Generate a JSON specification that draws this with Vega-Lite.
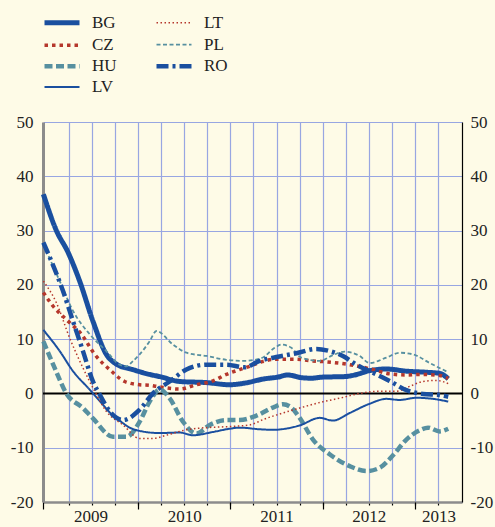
{
  "$schema": "https://vega.github.io/schema/vega-lite/v6.json",
  "width": 419,
  "height": 380,
  "autosize": {"type": "none"},
  "padding": {"left": 43, "top": 122, "right": 33, "bottom": 25},
  "background": "#fefbe7",
  "config": {
    "view": {"stroke": null},
    "font": "Liberation Serif, Times New Roman, serif",
    "legend": {"padding": 0}
  },
  "datasets": {
    "d": [
      {"s": "BG", "t": 2008.975, "v": 36.7}, {"s": "BG", "t": 2009.116, "v": 30.0}, {"s": "BG", "t": 2009.242, "v": 26.0}, {"s": "BG", "t": 2009.368, "v": 20.7}, {"s": "BG", "t": 2009.512, "v": 13.3}, {"s": "BG", "t": 2009.657, "v": 7.2}, {"s": "BG", "t": 2009.766, "v": 5.4}, {"s": "BG", "t": 2009.942, "v": 4.4}, {"s": "BG", "t": 2010.126, "v": 3.5}, {"s": "BG", "t": 2010.235, "v": 3.1}, {"s": "BG", "t": 2010.451, "v": 2.2}, {"s": "BG", "t": 2010.74, "v": 2.0}, {"s": "BG", "t": 2010.993, "v": 1.6}, {"s": "BG", "t": 2011.155, "v": 1.9}, {"s": "BG", "t": 2011.372, "v": 2.7}, {"s": "BG", "t": 2011.513, "v": 3.0}, {"s": "BG", "t": 2011.621, "v": 3.4}, {"s": "BG", "t": 2011.773, "v": 2.9}, {"s": "BG", "t": 2011.881, "v": 2.8}, {"s": "BG", "t": 2011.989, "v": 3.0}, {"s": "BG", "t": 2012.238, "v": 3.1}, {"s": "BG", "t": 2012.347, "v": 3.4}, {"s": "BG", "t": 2012.509, "v": 4.2}, {"s": "BG", "t": 2012.69, "v": 4.5}, {"s": "BG", "t": 2012.907, "v": 4.1}, {"s": "BG", "t": 2013.123, "v": 3.9}, {"s": "BG", "t": 2013.267, "v": 3.7}, {"s": "BG", "t": 2013.36, "v": 2.7},
      {"s": "CZ", "t": 2008.975, "v": 18.6}, {"s": "CZ", "t": 2009.079, "v": 16.1}, {"s": "CZ", "t": 2009.224, "v": 13.6}, {"s": "CZ", "t": 2009.387, "v": 10.9}, {"s": "CZ", "t": 2009.531, "v": 7.2}, {"s": "CZ", "t": 2009.712, "v": 4.1}, {"s": "CZ", "t": 2009.856, "v": 2.2}, {"s": "CZ", "t": 2010.018, "v": 1.6}, {"s": "CZ", "t": 2010.126, "v": 1.5}, {"s": "CZ", "t": 2010.235, "v": 1.2}, {"s": "CZ", "t": 2010.451, "v": 0.8}, {"s": "CZ", "t": 2010.632, "v": 1.6}, {"s": "CZ", "t": 2010.795, "v": 2.2}, {"s": "CZ", "t": 2010.957, "v": 3.5}, {"s": "CZ", "t": 2011.101, "v": 4.4}, {"s": "CZ", "t": 2011.209, "v": 5.0}, {"s": "CZ", "t": 2011.336, "v": 5.8}, {"s": "CZ", "t": 2011.48, "v": 6.3}, {"s": "CZ", "t": 2011.697, "v": 6.3}, {"s": "CZ", "t": 2011.878, "v": 6.0}, {"s": "CZ", "t": 2012.054, "v": 5.8}, {"s": "CZ", "t": 2012.293, "v": 5.3}, {"s": "CZ", "t": 2012.545, "v": 4.4}, {"s": "CZ", "t": 2012.726, "v": 3.6}, {"s": "CZ", "t": 2012.907, "v": 3.4}, {"s": "CZ", "t": 2013.083, "v": 3.5}, {"s": "CZ", "t": 2013.267, "v": 3.3}, {"s": "CZ", "t": 2013.36, "v": 2.8},
      {"s": "HU", "t": 2008.975, "v": 9.6}, {"s": "HU", "t": 2009.097, "v": 4.7}, {"s": "HU", "t": 2009.224, "v": 0.0}, {"s": "HU", "t": 2009.404, "v": -2.7}, {"s": "HU", "t": 2009.512, "v": -4.6}, {"s": "HU", "t": 2009.729, "v": -8.0}, {"s": "HU", "t": 2009.874, "v": -8.0}, {"s": "HU", "t": 2010.018, "v": -5.2}, {"s": "HU", "t": 2010.126, "v": -1.5}, {"s": "HU", "t": 2010.235, "v": 0.7}, {"s": "HU", "t": 2010.343, "v": -0.9}, {"s": "HU", "t": 2010.487, "v": -5.2}, {"s": "HU", "t": 2010.632, "v": -7.4}, {"s": "HU", "t": 2010.776, "v": -5.8}, {"s": "HU", "t": 2010.957, "v": -4.9}, {"s": "HU", "t": 2011.101, "v": -4.9}, {"s": "HU", "t": 2011.282, "v": -4.1}, {"s": "HU", "t": 2011.461, "v": -2.6}, {"s": "HU", "t": 2011.57, "v": -2.0}, {"s": "HU", "t": 2011.661, "v": -2.6}, {"s": "HU", "t": 2011.751, "v": -4.5}, {"s": "HU", "t": 2011.895, "v": -8.5}, {"s": "HU", "t": 2012.075, "v": -11.2}, {"s": "HU", "t": 2012.293, "v": -13.4}, {"s": "HU", "t": 2012.473, "v": -14.3}, {"s": "HU", "t": 2012.617, "v": -13.7}, {"s": "HU", "t": 2012.762, "v": -11.4}, {"s": "HU", "t": 2012.907, "v": -8.5}, {"s": "HU", "t": 2013.05, "v": -6.8}, {"s": "HU", "t": 2013.141, "v": -6.3}, {"s": "HU", "t": 2013.267, "v": -7.0}, {"s": "HU", "t": 2013.36, "v": -6.5},
      {"s": "LV", "t": 2008.975, "v": 11.7}, {"s": "LV", "t": 2009.152, "v": 7.8}, {"s": "LV", "t": 2009.296, "v": 4.1}, {"s": "LV", "t": 2009.477, "v": 0.7}, {"s": "LV", "t": 2009.621, "v": -2.1}, {"s": "LV", "t": 2009.693, "v": -3.5}, {"s": "LV", "t": 2009.801, "v": -5.0}, {"s": "LV", "t": 2009.91, "v": -6.3}, {"s": "LV", "t": 2010.018, "v": -6.9}, {"s": "LV", "t": 2010.235, "v": -7.3}, {"s": "LV", "t": 2010.451, "v": -7.2}, {"s": "LV", "t": 2010.595, "v": -7.7}, {"s": "LV", "t": 2010.812, "v": -7.1}, {"s": "LV", "t": 2010.993, "v": -6.5}, {"s": "LV", "t": 2011.101, "v": -6.3}, {"s": "LV", "t": 2011.317, "v": -6.6}, {"s": "LV", "t": 2011.461, "v": -6.7}, {"s": "LV", "t": 2011.751, "v": -5.9}, {"s": "LV", "t": 2011.967, "v": -4.5}, {"s": "LV", "t": 2012.111, "v": -5.0}, {"s": "LV", "t": 2012.293, "v": -3.6}, {"s": "LV", "t": 2012.509, "v": -1.9}, {"s": "LV", "t": 2012.69, "v": -1.0}, {"s": "LV", "t": 2012.834, "v": -1.2}, {"s": "LV", "t": 2013.015, "v": -0.8}, {"s": "LV", "t": 2013.195, "v": -1.0}, {"s": "LV", "t": 2013.36, "v": -1.5},
      {"s": "LT", "t": 2008.975, "v": 20.7}, {"s": "LT", "t": 2009.116, "v": 16.7}, {"s": "LT", "t": 2009.26, "v": 10.2}, {"s": "LT", "t": 2009.404, "v": 4.7}, {"s": "LT", "t": 2009.531, "v": 0.4}, {"s": "LT", "t": 2009.657, "v": -3.3}, {"s": "LT", "t": 2009.837, "v": -5.8}, {"s": "LT", "t": 2010.018, "v": -8.3}, {"s": "LT", "t": 2010.162, "v": -8.3}, {"s": "LT", "t": 2010.307, "v": -7.7}, {"s": "LT", "t": 2010.524, "v": -6.7}, {"s": "LT", "t": 2010.74, "v": -6.3}, {"s": "LT", "t": 2010.993, "v": -6.1}, {"s": "LT", "t": 2011.209, "v": -5.8}, {"s": "LT", "t": 2011.372, "v": -4.7}, {"s": "LT", "t": 2011.589, "v": -3.5}, {"s": "LT", "t": 2011.769, "v": -2.6}, {"s": "LT", "t": 2011.986, "v": -1.6}, {"s": "LT", "t": 2012.203, "v": -0.8}, {"s": "LT", "t": 2012.401, "v": 0.0}, {"s": "LT", "t": 2012.617, "v": 0.4}, {"s": "LT", "t": 2012.798, "v": 0.4}, {"s": "LT", "t": 2012.942, "v": 1.3}, {"s": "LT", "t": 2013.086, "v": 2.2}, {"s": "LT", "t": 2013.232, "v": 2.4}, {"s": "LT", "t": 2013.36, "v": 1.8},
      {"s": "PL", "t": 2008.975, "v": 27.5}, {"s": "PL", "t": 2009.152, "v": 20.7}, {"s": "PL", "t": 2009.296, "v": 15.2}, {"s": "PL", "t": 2009.477, "v": 10.9}, {"s": "PL", "t": 2009.657, "v": 7.8}, {"s": "PL", "t": 2009.801, "v": 5.3}, {"s": "PL", "t": 2009.874, "v": 5.0}, {"s": "PL", "t": 2009.942, "v": 5.9}, {"s": "PL", "t": 2010.018, "v": 7.2}, {"s": "PL", "t": 2010.126, "v": 9.6}, {"s": "PL", "t": 2010.199, "v": 11.5}, {"s": "PL", "t": 2010.379, "v": 9.0}, {"s": "PL", "t": 2010.524, "v": 7.5}, {"s": "PL", "t": 2010.74, "v": 6.9}, {"s": "PL", "t": 2010.957, "v": 6.2}, {"s": "PL", "t": 2011.155, "v": 6.0}, {"s": "PL", "t": 2011.336, "v": 6.5}, {"s": "PL", "t": 2011.48, "v": 8.4}, {"s": "PL", "t": 2011.553, "v": 9.0}, {"s": "PL", "t": 2011.661, "v": 8.4}, {"s": "PL", "t": 2011.769, "v": 6.6}, {"s": "PL", "t": 2011.967, "v": 6.0}, {"s": "PL", "t": 2012.13, "v": 7.2}, {"s": "PL", "t": 2012.238, "v": 7.7}, {"s": "PL", "t": 2012.401, "v": 6.9}, {"s": "PL", "t": 2012.509, "v": 5.6}, {"s": "PL", "t": 2012.69, "v": 6.6}, {"s": "PL", "t": 2012.834, "v": 7.5}, {"s": "PL", "t": 2012.978, "v": 7.2}, {"s": "PL", "t": 2013.159, "v": 5.6}, {"s": "PL", "t": 2013.36, "v": 3.9},
      {"s": "RO", "t": 2008.975, "v": 27.8}, {"s": "RO", "t": 2009.097, "v": 22.9}, {"s": "RO", "t": 2009.187, "v": 18.9}, {"s": "RO", "t": 2009.296, "v": 13.3}, {"s": "RO", "t": 2009.404, "v": 7.8}, {"s": "RO", "t": 2009.512, "v": 2.2}, {"s": "RO", "t": 2009.585, "v": -0.2}, {"s": "RO", "t": 2009.693, "v": -3.3}, {"s": "RO", "t": 2009.837, "v": -4.9}, {"s": "RO", "t": 2010.018, "v": -3.0}, {"s": "RO", "t": 2010.162, "v": 0.0}, {"s": "RO", "t": 2010.343, "v": 2.2}, {"s": "RO", "t": 2010.524, "v": 4.4}, {"s": "RO", "t": 2010.74, "v": 5.3}, {"s": "RO", "t": 2010.957, "v": 5.3}, {"s": "RO", "t": 2011.155, "v": 4.8}, {"s": "RO", "t": 2011.317, "v": 6.0}, {"s": "RO", "t": 2011.498, "v": 6.7}, {"s": "RO", "t": 2011.715, "v": 7.4}, {"s": "RO", "t": 2011.931, "v": 8.2}, {"s": "RO", "t": 2012.075, "v": 7.8}, {"s": "RO", "t": 2012.219, "v": 6.9}, {"s": "RO", "t": 2012.365, "v": 5.3}, {"s": "RO", "t": 2012.545, "v": 3.8}, {"s": "RO", "t": 2012.726, "v": 2.3}, {"s": "RO", "t": 2012.907, "v": 0.6}, {"s": "RO", "t": 2013.086, "v": -0.1}, {"s": "RO", "t": 2013.267, "v": -0.3}, {"s": "RO", "t": 2013.36, "v": -0.6}
    ]
  },
  "data": {"name": "d"},
  "layer": [
    {
      "data": {"values": [{}]},
      "mark": {"type": "rule", "color": "#000000", "strokeWidth": 2},
      "encoding": {
        "y": {"datum": 0, "type": "quantitative", "scale": {"domain": [-20, 50], "nice": false, "zero": false}, "axis": null}
      }
    },
    {
      "mark": {"type": "line", "interpolate": "monotone", "strokeCap": "butt", "strokeJoin": "round"},
      "encoding": {
        "x": {
          "field": "t", "type": "quantitative",
          "scale": {"domain": [2008.971, 2013.509], "nice": false, "zero": false},
          "axis": {
            "orient": "bottom", "title": null,
            "values": [2009.25, 2009.5, 2009.75, 2010, 2010.25, 2010.5, 2010.75, 2011, 2011.25, 2011.5, 2011.75, 2012, 2012.25, 2012.5, 2012.75, 2013, 2013.25],
            "grid": true, "gridColor": "#98a6e2", "gridWidth": 1.2,
            "labels": false, "ticks": true, "tickSize": 3, "tickColor": "#000000", "tickWidth": 1.2,
            "domain": true, "domainColor": "#8c8c8c", "domainWidth": 2.5
          }
        },
        "y": {
          "field": "v", "type": "quantitative",
          "scale": {"domain": [-20, 50], "nice": false, "zero": false},
          "axis": {
            "orient": "left", "title": null,
            "values": [-20, -10, 0, 10, 20, 30, 40, 50],
            "labelExpr": "'' + datum.value",
            "grid": true, "gridColor": "#98a6e2", "gridWidth": 1.2,
            "ticks": false, "domain": true, "domainColor": "#8c8c8c", "domainWidth": 3,
            "labelFont": "Liberation Serif, Times New Roman, serif", "labelFontSize": 17, "labelColor": "#222222", "labelPadding": 10
          }
        },
        "color": {
          "field": "s", "type": "nominal",
          "scale": {"domain": ["BG", "CZ", "HU", "LV", "LT", "PL", "RO"], "range": ["#1a4f9f", "#b5372c", "#5790a0", "#1a4f9f", "#b5372c", "#5790a0", "#1a4f9f"]},
          "legend": {
            "orient": "none", "legendX": 7.5, "legendY": -110.9, "columns": 2, "direction": "vertical",
            "title": null, "symbolType": "M-2,0H2", "symbolSize": 306,
            "labelFont": "Liberation Serif, Times New Roman, serif", "labelFontSize": 17, "labelColor": "#222222",
            "labelOffset": 18.5, "columnPadding": 30, "rowPadding": 1.6, "padding": 0
          }
        },
        "strokeDash": {
          "field": "s", "type": "nominal",
          "scale": {"domain": ["BG", "CZ", "HU", "LV", "LT", "PL", "RO"], "range": [[1, 0], [3.5, 4], [8, 3.5], [1, 0], [1.5, 2.5], [4, 2.5], [12, 4, 3, 4]]}
        },
        "strokeWidth": {
          "field": "s", "type": "nominal",
          "scale": {"type": "ordinal", "domain": ["BG", "CZ", "HU", "LV", "LT", "PL", "RO"], "range": [5, 3.5, 4.5, 2, 1.5, 1.8, 4.5]}
        }
      }
    },
    {
      "mark": {"type": "point", "opacity": 0},
      "encoding": {
        "x": {
          "field": "t", "type": "quantitative",
          "scale": {"domain": [2008.971, 2013.509], "nice": false, "zero": false},
          "axis": {
            "orient": "bottom", "title": null, "values": [2008.972, 2010, 2011, 2012, 2013],
            "grid": false, "labels": false, "domain": false,
            "ticks": true, "tickSize": 7, "tickColor": "#000000", "tickWidth": 1.2
          }
        },
        "y": {
          "field": "v", "type": "quantitative",
          "scale": {"domain": [-20, 50], "nice": false, "zero": false},
          "axis": {
            "orient": "right", "title": null,
            "values": [-20, -10, 0, 10, 20, 30, 40, 50],
            "labelExpr": "'' + datum.value",
            "grid": false, "ticks": false, "domain": true, "domainColor": "#000000", "domainWidth": 1.2,
            "labelFont": "Liberation Serif, Times New Roman, serif", "labelFontSize": 17, "labelColor": "#222222", "labelPadding": 8
          }
        }
      }
    },
    {
      "mark": {"type": "point", "opacity": 0},
      "encoding": {
        "x": {
          "field": "t", "type": "quantitative",
          "scale": {"domain": [2008.971, 2013.509], "nice": false, "zero": false},
          "axis": {
            "orient": "bottom", "title": null, "values": [2009.485, 2010.5, 2011.5, 2012.5, 2013.255],
            "labelExpr": "'' + floor(datum.value)", "labelFlush": false,
            "grid": false, "ticks": false, "domain": false,
            "labelFont": "Liberation Serif, Times New Roman, serif", "labelFontSize": 17, "labelColor": "#222222", "labelPadding": 6
          }
        },
        "y": {
          "field": "v", "type": "quantitative",
          "scale": {"domain": [-20, 50], "nice": false, "zero": false},
          "axis": null
        }
      }
    }
  ],
  "resolve": {"axis": {"x": "independent", "y": "independent"}}
}
